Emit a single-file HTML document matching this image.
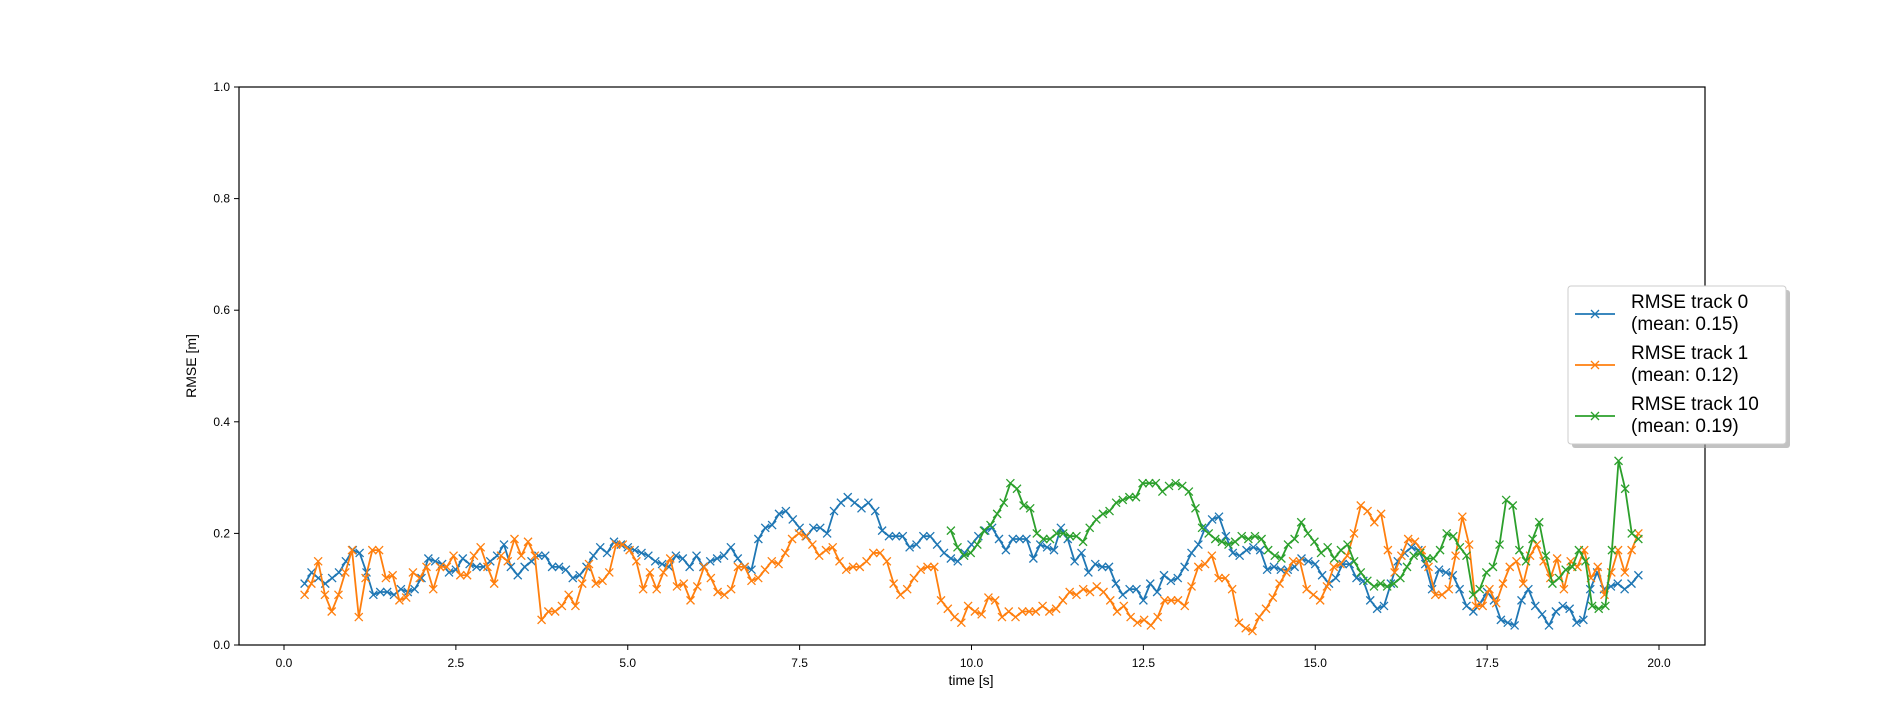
<!DOCTYPE html>
<html><head><meta charset="utf-8"><style>
html,body{margin:0;padding:0;background:#fff;}
svg{display:block;font-family:"Liberation Sans","DejaVu Sans",sans-serif;}
</style></head><body>
<svg id="chart" width="1893" height="722" viewBox="0 0 1893 722" xmlns="http://www.w3.org/2000/svg">
<rect x="0" y="0" width="1893" height="722" fill="#fff"/>
<g id="plot"></g>
<rect x="239" y="87" width="1466" height="558" fill="none" stroke="#000" stroke-width="1.2"/>
<g id="axes"></g>
<text x="971" y="685" font-size="14" text-anchor="middle">time [s]</text>
<text x="196" y="366" font-size="14" text-anchor="middle" transform="rotate(-90 196 366)">RMSE [m]</text>
<g id="legend"></g>
</svg>
<script>
const xTicks = [0, 2.5, 5, 7.5, 10, 12.5, 15, 17.5, 20];
const yTicks = [0, 0.2, 0.4, 0.6, 0.8, 1.0];
const seriesNames = ["RMSE track 0", "RMSE track 1", "RMSE track 10"];
const seriesMeans = ["(mean: 0.15)", "(mean: 0.12)", "(mean: 0.19)"];
const seriesColors = ["#1f77b4", "#ff7f0e", "#2ca02c"];
const t0Range = [0.3, 19.7];
const t1Range = [0.3, 19.7];
const t10Range = [9.7, 19.7];
const track0 = [0.11,0.13,0.12,0.11,0.12,0.13,0.15,0.17,0.165,0.13,0.09,0.095,0.095,0.09,0.10,0.095,0.10,0.12,0.155,0.15,0.145,0.13,0.135,0.155,0.145,0.14,0.14,0.15,0.16,0.18,0.14,0.125,0.14,0.15,0.16,0.16,0.14,0.14,0.135,0.12,0.125,0.14,0.16,0.175,0.165,0.185,0.18,0.175,0.17,0.165,0.16,0.15,0.145,0.14,0.16,0.155,0.14,0.16,0.14,0.15,0.155,0.16,0.175,0.155,0.14,0.135,0.19,0.21,0.215,0.235,0.24,0.225,0.21,0.195,0.21,0.21,0.20,0.24,0.255,0.265,0.255,0.245,0.255,0.24,0.205,0.195,0.195,0.195,0.175,0.18,0.195,0.195,0.18,0.165,0.155,0.15,0.165,0.18,0.195,0.205,0.21,0.19,0.17,0.19,0.19,0.19,0.155,0.18,0.175,0.17,0.21,0.19,0.15,0.165,0.13,0.145,0.14,0.14,0.11,0.09,0.10,0.10,0.08,0.11,0.095,0.125,0.115,0.12,0.14,0.165,0.18,0.21,0.225,0.23,0.195,0.165,0.16,0.17,0.175,0.17,0.135,0.14,0.135,0.135,0.14,0.155,0.15,0.145,0.125,0.11,0.12,0.145,0.145,0.12,0.115,0.08,0.065,0.07,0.11,0.15,0.165,0.175,0.17,0.145,0.10,0.135,0.13,0.125,0.10,0.07,0.06,0.075,0.095,0.08,0.045,0.04,0.035,0.08,0.10,0.07,0.055,0.035,0.06,0.07,0.065,0.04,0.045,0.10,0.13,0.10,0.105,0.11,0.10,0.11,0.125];
const track1 = [0.09,0.11,0.15,0.09,0.06,0.09,0.13,0.17,0.05,0.12,0.17,0.17,0.12,0.125,0.08,0.085,0.13,0.12,0.14,0.10,0.14,0.14,0.16,0.125,0.125,0.16,0.175,0.14,0.11,0.16,0.15,0.19,0.16,0.185,0.16,0.045,0.06,0.06,0.07,0.09,0.07,0.11,0.145,0.11,0.115,0.13,0.18,0.18,0.17,0.15,0.10,0.13,0.10,0.13,0.155,0.105,0.11,0.08,0.105,0.14,0.12,0.095,0.09,0.10,0.14,0.14,0.115,0.12,0.135,0.15,0.145,0.165,0.19,0.20,0.195,0.18,0.16,0.17,0.175,0.15,0.135,0.14,0.14,0.15,0.165,0.165,0.15,0.11,0.09,0.10,0.12,0.135,0.14,0.14,0.08,0.065,0.05,0.04,0.07,0.06,0.055,0.085,0.08,0.05,0.06,0.05,0.06,0.06,0.06,0.07,0.06,0.065,0.08,0.095,0.09,0.10,0.095,0.105,0.095,0.08,0.06,0.07,0.05,0.04,0.045,0.035,0.05,0.08,0.08,0.08,0.07,0.105,0.14,0.145,0.16,0.12,0.12,0.10,0.04,0.03,0.025,0.05,0.065,0.085,0.11,0.13,0.15,0.15,0.10,0.09,0.08,0.105,0.14,0.145,0.16,0.20,0.25,0.24,0.22,0.235,0.17,0.13,0.16,0.19,0.185,0.17,0.14,0.09,0.09,0.10,0.16,0.23,0.18,0.07,0.07,0.10,0.075,0.11,0.14,0.15,0.11,0.16,0.18,0.15,0.12,0.155,0.10,0.15,0.14,0.17,0.12,0.14,0.09,0.13,0.17,0.13,0.17,0.20];
const track10 = [0.205,0.175,0.16,0.165,0.18,0.205,0.215,0.235,0.255,0.29,0.28,0.25,0.245,0.20,0.19,0.19,0.20,0.20,0.195,0.195,0.185,0.21,0.225,0.235,0.24,0.255,0.26,0.265,0.265,0.29,0.29,0.29,0.275,0.285,0.29,0.285,0.275,0.245,0.21,0.20,0.19,0.185,0.18,0.185,0.195,0.19,0.195,0.19,0.17,0.16,0.155,0.18,0.19,0.22,0.20,0.185,0.165,0.175,0.155,0.17,0.18,0.15,0.13,0.115,0.105,0.11,0.105,0.11,0.12,0.14,0.16,0.165,0.155,0.155,0.17,0.20,0.195,0.175,0.16,0.09,0.10,0.13,0.14,0.18,0.26,0.25,0.17,0.15,0.19,0.22,0.16,0.11,0.12,0.135,0.14,0.17,0.15,0.07,0.065,0.07,0.17,0.33,0.28,0.20,0.19];

const NS = "http://www.w3.org/2000/svg";
const xS = v => 284 + v * (1659 - 284) / 20;
const yS = v => 645 - v * 558;
function mk(tag, attrs, parent) {
  const e = document.createElementNS(NS, tag);
  for (const k in attrs) e.setAttribute(k, attrs[k]);
  parent.appendChild(e);
  return e;
}
const axes = document.getElementById('axes');
xTicks.forEach(v => {
  const l = mk('line', {x1: xS(v), x2: xS(v), y1: 645, y2: 650, stroke: '#000', 'stroke-width': 1}, axes);
  
  
  const t = mk('text', {x: xS(v), y: 667, 'font-size': 12, 'text-anchor': 'middle'}, axes);
  t.textContent = v.toFixed(1);
  
  
});
yTicks.forEach(v => {
  const l = mk('line', {x1: 234, x2: 239, y1: yS(v), y2: yS(v), stroke: '#000', 'stroke-width': 1}, axes);
  
  
  const t = mk('text', {x: 230, y: yS(v) + 4, 'font-size': 12, 'text-anchor': 'end'}, axes);
  t.textContent = v.toFixed(1);
  
  
});
const plot = document.getElementById('plot');
function marker(g, x, y, c) {
  const p = mk('path', {d: `M${x-4},${y-4}L${x+4},${y+4}M${x-4},${y+4}L${x+4},${y-4}`, stroke: c, 'stroke-width': 1.3, fill: 'none'}, g);
  
  
}
[[track0, t0Range], [track1, t1Range], [track10, t10Range]].forEach(([vals, rng], i) => {
  const g = mk('g', {}, plot);
  
  
  const n = vals.length;
  const pts = vals.map((v, k) => [xS(rng[0] + (rng[1] - rng[0]) * k / (n - 1)), yS(v)]);
  const path = mk('polyline', {points: pts.map(p => p.join(',')).join(' '), fill: 'none', stroke: seriesColors[i], 'stroke-width': 1.8, 'stroke-linejoin': 'round'}, g);
  
  
  pts.forEach(p => marker(g, p[0], p[1], seriesColors[i]));
});
const lg = document.getElementById('legend');
mk('rect', {x: 1572, y: 290, width: 218, height: 158, rx: 3, fill: '#999', opacity: 0.6}, lg);
const box = mk('rect', {x: 1568, y: 286, width: 218, height: 158, rx: 3, fill: '#fff', stroke: '#ccc', 'stroke-width': 1}, lg);


seriesNames.forEach((n, i) => {
  const y0 = 302 + i * 51;
  const g = mk('g', {}, lg);
  
  
  mk('line', {x1: 1575, x2: 1615, y1: y0 + 12, y2: y0 + 12, stroke: seriesColors[i], 'stroke-width': 1.8}, g);
  marker(g, 1595, y0 + 12, seriesColors[i]);
  const t1 = mk('text', {x: 1631, y: y0 + 6, 'font-size': 19}, g);
  t1.textContent = n;
  const t2 = mk('text', {x: 1631, y: y0 + 28, 'font-size': 19}, g);
  t2.textContent = seriesMeans[i];
});
</script>
</body></html>
